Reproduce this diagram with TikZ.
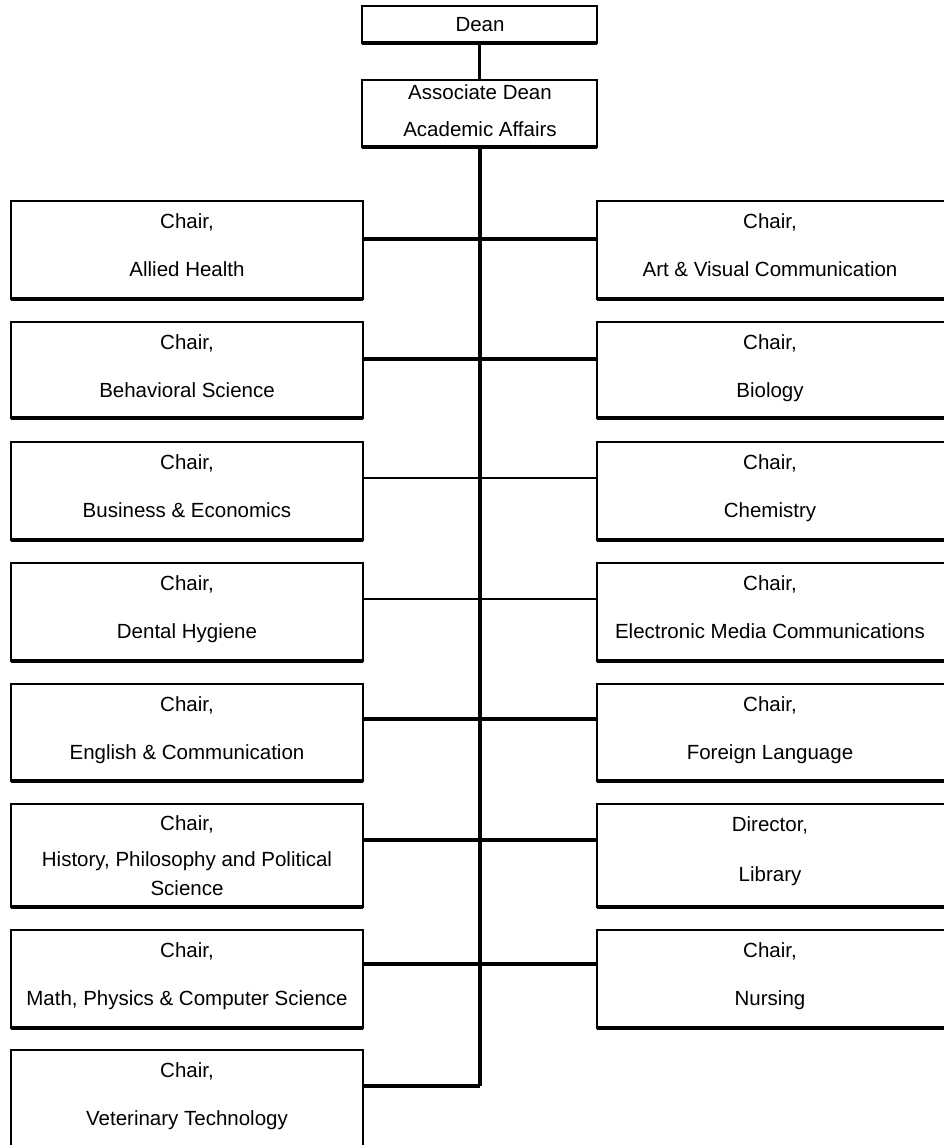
\documentclass[tikz,border=0pt]{standalone}
\usepackage{fontspec}
\setmainfont{Liberation Sans}
\begin{document}
\begin{tikzpicture}[x=1pt,y=-1pt,
  box/.style={draw, line width=2.8pt, inner sep=0pt, outer sep=0pt},
  botline/.style={line width=4pt},
  txt/.style={font=\fontsize{20.5}{24}\selectfont, inner sep=0pt, anchor=base},
  link/.style={line width=3.3pt}]
\useasboundingbox (0,0) rectangle (944,1145);
\clip (0,0) rectangle (944,1145);
% top of the chart
\node[box, minimum width=235pt, minimum height=37pt] (dean) at (479.5,24.5) {};
\draw[botline] (dean.south west) -- (dean.south east);
\node[txt] (deant) at (480,32) {Dean};
\node[box, minimum width=235pt, minimum height=67pt] (assoc) at (479.5,113.5) {};
\draw[botline] (assoc.south west) -- (assoc.south east);
\node[txt] (assoca) at (480,100) {Associate Dean};
\node[txt] (assocb) at (480,136) {Academic Affairs};
\coordinate (tend) at (480,1086);
\draw[link] (dean) -- (assoc);
\draw[link] (assoc.south -| tend) -- (tend);
% two-line rows
\foreach \n/\ta/\bo/\cy/\lw/\pa/\pb/\qa/\qb in {
  1/201/299/239/3.3/{Chair,}/{Allied Health}/{Chair,}/{Art \& Visual Communication},
  2/322/418/359/3.3/{Chair,}/{Behavioral Science}/{Chair,}/{Biology},
  3/442/540/478/1.4/{Chair,}/{Business \& Economics}/{Chair,}/{Chemistry},
  4/563/661/599/1.4/{Chair,}/{Dental Hygiene}/{Chair,}/{Electronic Media Communications},
  5/684/781/719/3.3/{Chair,}/{English \& Communication}/{Chair,}/{Foreign Language},
  7/930/1028/964/3.3/{Chair,}/{Math, Physics \& Computer Science}/{Chair,}/{Nursing}}{
  \node[box, minimum width=352pt, minimum height={(\bo-\ta)*1pt}] (L\n) at (187,{(\ta+\bo)/2}) {};
  \draw[botline] (L\n.south west) -- (L\n.south east);
  \node[box, minimum width=353pt, minimum height={(\bo-\ta)*1pt}] (R\n) at (773.5,{(\ta+\bo)/2}) {};
  \draw[botline] (R\n.south west) -- (R\n.south east);
  \node[txt] (L\n-a) at (187,{\ta+27}) {\pa};
  \node[txt] (L\n-b) at (187,{\ta+75}) {\pb};
  \node[txt] (R\n-a) at (770,{\ta+27}) {\qa};
  \node[txt] (R\n-b) at (770,{\ta+75}) {\qb};
  \coordinate (c\n) at (480,\cy);
  \draw[line width=\lw pt] (L\n.east |- c\n) -- (R\n.west |- c\n);
}
% row 6
\node[box, minimum width=352pt, minimum height=103pt] (L6) at (187,855.5) {};
\draw[botline] (L6.south west) -- (L6.south east);
\node[box, minimum width=353pt, minimum height=103pt] (R6) at (773.5,855.5) {};
\draw[botline] (R6.south west) -- (R6.south east);
\node[txt] (L6-a) at (187,830) {Chair,};
\node[txt] (L6-b) at (187,866) {History, Philosophy and Political};
\node[txt] (L6-c) at (187,895) {Science};
\node[txt] (R6-a) at (770,831) {Director,};
\node[txt] (R6-b) at (770,881) {Library};
\coordinate (c6) at (480,840);
\draw[link] (L6.east |- c6) -- (R6.west |- c6);
% row 8
\node[box, minimum width=352pt, minimum height=110pt] (L8) at (187,1105) {};
\node[txt] (L8-a) at (187,1077) {Chair,};
\node[txt] (L8-b) at (187,1125) {Veterinary Technology};
\draw[link] (L8.east |- tend) -- (tend);
\end{tikzpicture}
\end{document}
